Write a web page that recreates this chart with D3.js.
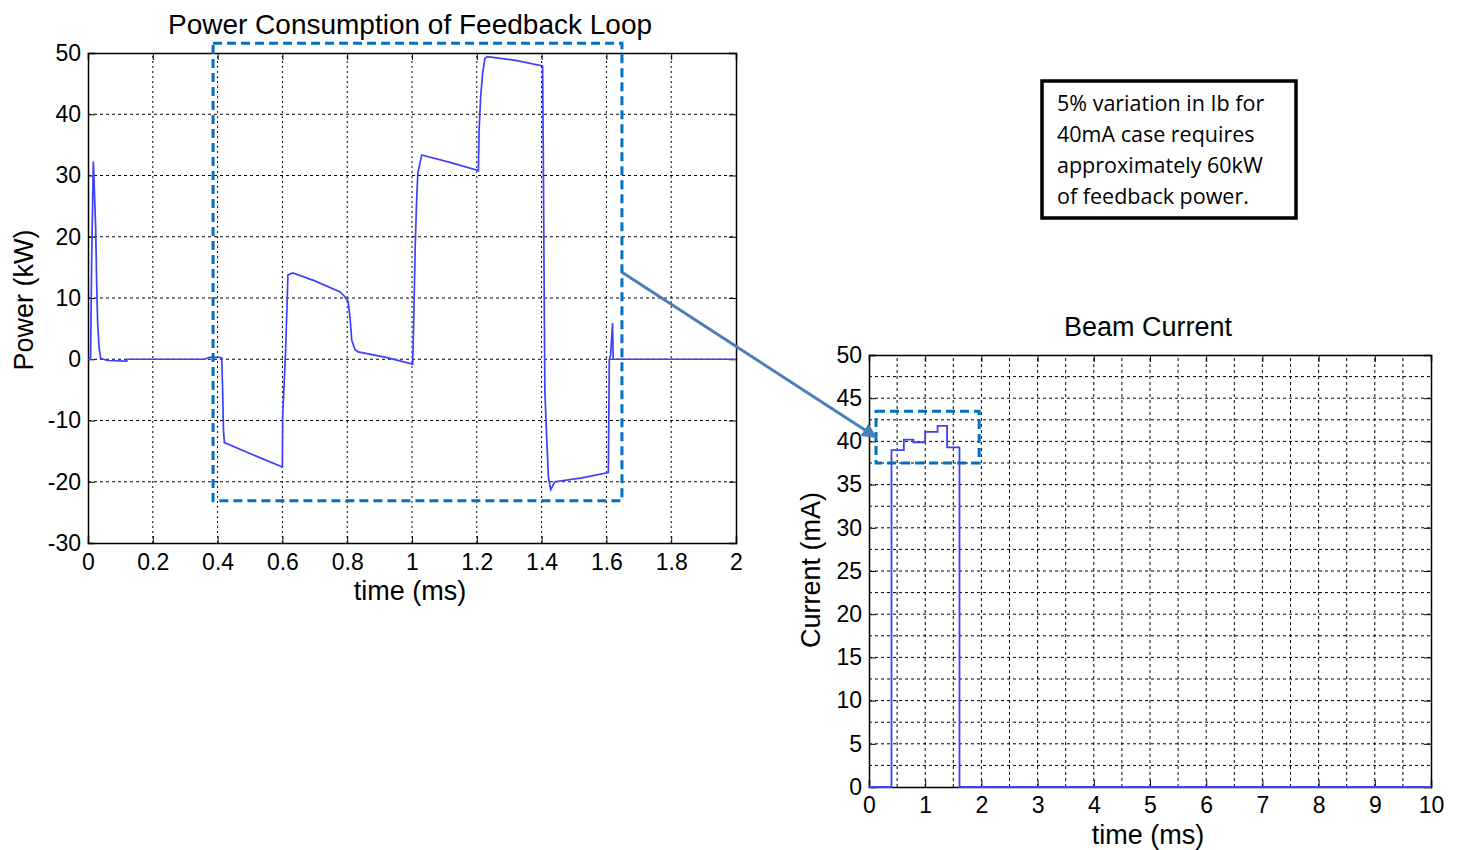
<!DOCTYPE html>
<html><head><meta charset="utf-8">
<script src="https://cdn.jsdelivr.net/npm/d3@7"></script>
<style>
body{margin:0;background:#fff;}
text{font-family:"Liberation Sans",Arial,sans-serif;fill:#000;}
</style></head>
<body><svg id="c" width="1459" height="850"></svg>
<script>
// ---- Data ----
const powerTime = [0,0.008,0.0113,0.0113,0.0165,0.0195,0.0237,0.0267,0.0298,0.034,0.039,0.06,0.119,0.122,0.36,0.375,0.405,0.413,0.416,0.418,0.421,0.5,0.600,0.601,0.610,0.614,0.617,0.632,0.70,0.778,0.793,0.803,0.809,0.814,0.824,0.834,0.92,1.002,1.005,1.010,1.014,1.018,1.030,1.12,1.205,1.207,1.212,1.218,1.225,1.232,1.32,1.403,1.405,1.410,1.416,1.421,1.428,1.433,1.441,1.52,1.606,1.609,1.613,1.619,1.621,1.623,1.8,2.0];
const powerKW   = [0,0,16.2,16.2,32.3,27.9,21.4,12.4,5.9,2.1,0.15,-0.2,-0.3,0,0,0.3,0.3,0.2,-6.1,-11.5,-13.6,-15.4,-17.6,-9.1,1.5,8.3,13.75,14.1,12.8,11.0,10.2,9.4,6.7,3.1,1.6,1.2,0.3,-0.8,5.6,18.6,25.5,30.4,33.35,32.1,30.8,37.4,42.9,46.7,49.1,49.4,48.8,47.9,35.3,-5.0,-13.2,-19.2,-21.3,-20.8,-20.0,-19.4,-18.5,-0.1,0.7,5.9,0,0,0,0];
const beamTime  = [0,0.40,0.62,0.79,1.00,1.22,1.39,1.61,10];
const beamMA    = [0,39.0,40.2,39.9,41.1,41.8,39.3,0,0];
const leftXTicks = [0,0.2,0.4,0.6,0.8,1,1.2,1.4,1.6,1.8,2];
const leftYTicks = [-30,-20,-10,0,10,20,30,40,50];
const rightXTicks = [0,1,2,3,4,5,6,7,8,9,10];
const rightYTicks = [0,5,10,15,20,25,30,35,40,45,50];
const rightXGrid = d3.range(0.5,10,0.5);
const rightYGrid = d3.range(2.5,50,2.5);
const leftBox = {x0:0.386,x1:1.648,y0:-23.1,y1:51.6};
const rightBox = {x0:0.125,x1:1.96,y0:37.5,y1:43.5};
const noteLines = ["5% variation  in Ib for","40mA case requires","approximately 60kW","of feedback power."];

const svg = d3.select("#c");
const defs = svg.append("defs");
defs.append("marker").attr("id","ah").attr("viewBox","0 0 10 10").attr("refX",9).attr("refY",5)
 .attr("markerWidth",5).attr("markerHeight",5).attr("orient","auto")
 .append("path").attr("d","M0,0L10,5L0,10Z").attr("fill","#4A7EBB");

const lineColor = "#3f3fff";
const fmt = d => String(d);

// ---- Left chart ----
const lx = d3.scaleLinear().domain([0,2]).range([88,736]);
const ly = d3.scaleLinear().domain([-30,50]).range([543,53]);
const L = svg.append("g");
L.selectAll(".gx").data(leftXTicks.slice(1,-1)).enter().append("line")
 .attr("x1",d=>lx(d)).attr("x2",d=>lx(d)).attr("y1",ly(-30)).attr("y2",ly(50))
 .attr("stroke","#000").attr("stroke-width",1).attr("stroke-dasharray","2,3");
L.selectAll(".gy").data(leftYTicks.slice(1,-1)).enter().append("line")
 .attr("y1",d=>ly(d)).attr("y2",d=>ly(d)).attr("x1",lx(0)).attr("x2",lx(2))
 .attr("stroke","#000").attr("stroke-width",1).attr("stroke-dasharray","3,3");
L.append("g").attr("transform",`translate(0,${ly(-30)})`)
 .call(d3.axisBottom(lx).tickValues(leftXTicks).tickSize(-7).tickPadding(11).tickFormat(fmt));
L.append("g").attr("transform",`translate(${lx(0)},0)`)
 .call(d3.axisLeft(ly).tickValues(leftYTicks).tickSize(-7).tickPadding(7).tickFormat(fmt));
L.append("g").attr("transform",`translate(0,${ly(50)})`)
 .call(d3.axisTop(lx).tickValues(leftXTicks).tickSize(-7).tickFormat(""));
L.append("g").attr("transform",`translate(${lx(2)},0)`)
 .call(d3.axisRight(ly).tickValues(leftYTicks).tickSize(-7).tickFormat(""));
L.selectAll(".domain").attr("stroke","#000").attr("stroke-width",1.5);
L.selectAll(".tick line").attr("stroke","#000");
L.selectAll(".tick text").style("font-size","23px").style("font-family","Liberation Sans, Arial, sans-serif");
const pdata = powerTime.map((t,i)=>[t,powerKW[i]]);
L.append("path").datum(pdata).attr("fill","none").attr("stroke",lineColor).attr("stroke-width",1.7)
 .attr("d",d3.line().x(d=>lx(d[0])).y(d=>ly(d[1])));
L.append("text").attr("x",410).attr("y",34).attr("text-anchor","middle").style("font-size","28px").text("Power Consumption of Feedback Loop");
L.append("text").attr("x",410).attr("y",600).attr("text-anchor","middle").style("font-size","27px").text("time (ms)");
L.append("text").attr("transform","translate(33,300) rotate(-90)").attr("text-anchor","middle").style("font-size","27px").text("Power (kW)");

// ---- Right chart ----
const rx = d3.scaleLinear().domain([0,10]).range([869,1431]);
const ry = d3.scaleLinear().domain([0,50]).range([787,355]);
const R = svg.append("g");
R.selectAll(".gx").data(rightXGrid).enter().append("line")
 .attr("x1",d=>rx(d)).attr("x2",d=>rx(d)).attr("y1",ry(0)).attr("y2",ry(50))
 .attr("stroke","#000").attr("stroke-width",1).attr("stroke-dasharray","3,3");
R.selectAll(".gy").data(rightYGrid).enter().append("line")
 .attr("y1",d=>ry(d)).attr("y2",d=>ry(d)).attr("x1",rx(0)).attr("x2",rx(10))
 .attr("stroke","#000").attr("stroke-width",1).attr("stroke-dasharray","3,3");
R.append("g").attr("transform",`translate(0,${ry(0)})`)
 .call(d3.axisBottom(rx).tickValues(rightXTicks).tickSize(-7).tickPadding(10).tickFormat(fmt));
R.append("g").attr("transform",`translate(${rx(0)},0)`)
 .call(d3.axisLeft(ry).tickValues(rightYTicks).tickSize(-7).tickPadding(7).tickFormat(fmt));
R.append("g").attr("transform",`translate(0,${ry(50)})`)
 .call(d3.axisTop(rx).tickValues(rightXTicks).tickSize(-7).tickFormat(""));
R.append("g").attr("transform",`translate(${rx(10)},0)`)
 .call(d3.axisRight(ry).tickValues(rightYTicks).tickSize(-7).tickFormat(""));
R.selectAll(".domain").attr("stroke","#000").attr("stroke-width",1.5);
R.selectAll(".tick line").attr("stroke","#000");
R.selectAll(".tick text").style("font-size","23px").style("font-family","Liberation Sans, Arial, sans-serif");
const bdata = beamTime.map((t,i)=>[t,beamMA[i]]);
R.append("path").datum(bdata).attr("fill","none").attr("stroke",lineColor).attr("stroke-width",1.8)
 .attr("d",d3.line().curve(d3.curveStepAfter).x(d=>rx(d[0])).y(d=>ry(d[1])));
R.append("text").attr("x",1148).attr("y",336).attr("text-anchor","middle").style("font-size","27px").text("Beam Current");
R.append("text").attr("x",1148).attr("y",844).attr("text-anchor","middle").style("font-size","27px").text("time (ms)");
R.append("text").attr("transform","translate(820,570) rotate(-90)").attr("text-anchor","middle").style("font-size","27px").text("Current (mA)");

// ---- Highlight boxes & arrow ----
svg.append("rect").attr("x",lx(leftBox.x0)).attr("y",ly(leftBox.y1))
 .attr("width",lx(leftBox.x1)-lx(leftBox.x0)).attr("height",ly(leftBox.y0)-ly(leftBox.y1))
 .attr("fill","none").attr("stroke","#0070C0").attr("stroke-width",3).attr("stroke-dasharray","9,5");
svg.append("rect").attr("x",rx(rightBox.x0)).attr("y",ry(rightBox.y1))
 .attr("width",rx(rightBox.x1)-rx(rightBox.x0)).attr("height",ry(rightBox.y0)-ry(rightBox.y1))
 .attr("fill","none").attr("stroke","#0070C0").attr("stroke-width",3).attr("stroke-dasharray","9,5");
svg.append("line").attr("x1",lx(leftBox.x1)).attr("y1",ly(14.2)).attr("x2",rx(0.12)).attr("y2",ry(40.5))
 .attr("stroke","#4A7EBB").attr("stroke-width",3).attr("marker-end","url(#ah)");

// ---- Note box ----
const N = svg.append("g");
N.append("rect").attr("x",1042).attr("y",81).attr("width",254).attr("height",137)
 .attr("fill","#fff").attr("stroke","#000").attr("stroke-width",3.5);
N.selectAll("text.n").data(noteLines).enter().append("text")
 .attr("x",1057).attr("y",(d,i)=>111+i*31).style("font-family","'Open Sans',sans-serif").style("font-size","21.5px").text(d=>d);
</script></body></html>
